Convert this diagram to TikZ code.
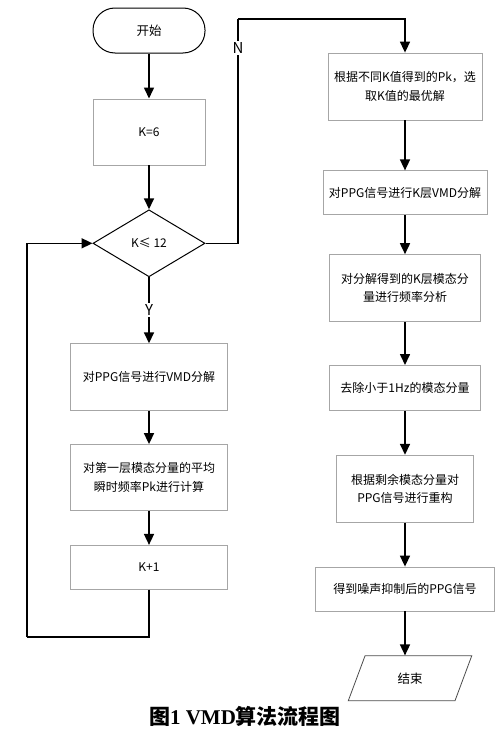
\documentclass[tikz,border=0pt]{standalone}
\usepackage{fontspec}
\usepackage{tikz}
\newfontfamily\cjk{Noto Sans CJK SC}
\newfontfamily\capfont{Liberation Serif}
\usetikzlibrary{positioning,shapes.geometric,arrows.meta}
\tikzset{proc node/.style={rectangle,draw=gray!70,line width=0.8pt,align=center,inner sep=2pt,
		font=\cjk\fontsize{12}{18.5}\selectfont},
	term node/.style={rectangle,rounded corners=22pt,draw,line width=1pt,minimum width=112pt,minimum height=45pt,
		font=\cjk\fontsize{12.5}{18}\selectfont},
	test node/.style={diamond,draw,line width=1pt,minimum width=112pt,minimum height=67pt,inner sep=0pt,
		font=\cjk\fontsize{12}{18}\selectfont},
	io node/.style={trapezium,trapezium left angle=72,trapezium right angle=108,trapezium stretches=true,
		draw=gray!60!black,line width=0.8pt,minimum width=124pt,minimum height=45pt,
		font=\cjk\fontsize{12.5}{18}\selectfont},
	flow/.style={line width=1.6pt,-{Triangle[length=11pt,width=10pt]}},
	branch/.style={fill=white,inner sep=1.5pt,font=\cjk\fontsize{15}{17}\selectfont},
}

\begin{document}
\begin{tikzpicture}[x=1pt,y=1pt]
	\useasboundingbox (0,0) rectangle (500,-736);
	
	%% left column
	\node[term node] (start) at (149,-30.5) {开始};
	\node[proc node,minimum width=112pt,minimum height=66pt] (k6) [below = 45pt of start] {K=6};
	\node[test node] (cond) [below = 44pt of k6] {K≤ 12};
	\node[proc node,minimum width=157pt,minimum height=67pt] (vmd) [below = 66pt of cond] {对PPG信号进行VMD分解};
	\node[proc node,minimum width=157pt,minimum height=66pt] (pk) [below = 33pt of vmd] {对第一层模态分量的平均\\瞬时频率Pk进行计算};
	\node[proc node,minimum width=157pt,minimum height=44pt] (kinc) [below = 34pt of pk] {K+1};
	
	%% right column
	\node[proc node,minimum width=154pt,minimum height=67pt] (best) at (405,-86.5) {根据不同K值得到的Pk，选\\取K值的最优解};
	\node[proc node,minimum width=164pt,minimum height=44pt] (kvmd) [below = 50pt of best] {对PPG信号进行K层VMD分解};
	\node[proc node,minimum width=151pt,minimum height=67pt] (freq) [below = 39pt of kvmd] {对分解得到的K层模态分\\量进行频率分析};
	\node[proc node,minimum width=151pt,minimum height=45pt] (cut) [below = 43pt of freq] {去除小于1Hz的模态分量};
	\node[proc node,minimum width=137pt,minimum height=67pt] (rebuild) [below = 44pt of cut] {根据剩余模态分量对\\PPG信号进行重构};
	\node[proc node,minimum width=179pt,minimum height=44pt] (clean) [below = 44pt of rebuild] {得到噪声抑制后的PPG信号};
	\node[io node] (stop) [below = 44pt of clean, xshift=5pt] {结束};
	
	%% turning points
	\coordinate (nturn) at (238,-19);
	\coordinate (loopbot) at (27,-637);
	
	\path[draw,flow]
	(start) edge (k6)
	(k6) edge (cond)
	(cond) edge node[branch] {Y} (vmd)
	(vmd) edge (pk)
	(pk) edge (kinc)
	(best) edge (kvmd)
	(kvmd) edge (freq)
	(freq) edge (cut)
	(cut) edge (rebuild)
	(rebuild) edge (clean)
	(clean) edge (clean |- stop.north)
	;
	\draw[line width=1.6pt] (cond.east) -| node[branch,pos=0.935] {N} (nturn);
	\draw[flow] (nturn) -| (best.north);
	\draw[line width=1.6pt] (kinc.south) |- (loopbot);
	\draw[flow] (loopbot) |- (cond.west);
	
	\node (caption) at (245,-716) {\fontsize{21}{24}\selectfont{\cjk\bfseries 图}{\capfont\bfseries 1 VMD}{\cjk\bfseries 算法流程图}};
\end{tikzpicture}
\end{document}
